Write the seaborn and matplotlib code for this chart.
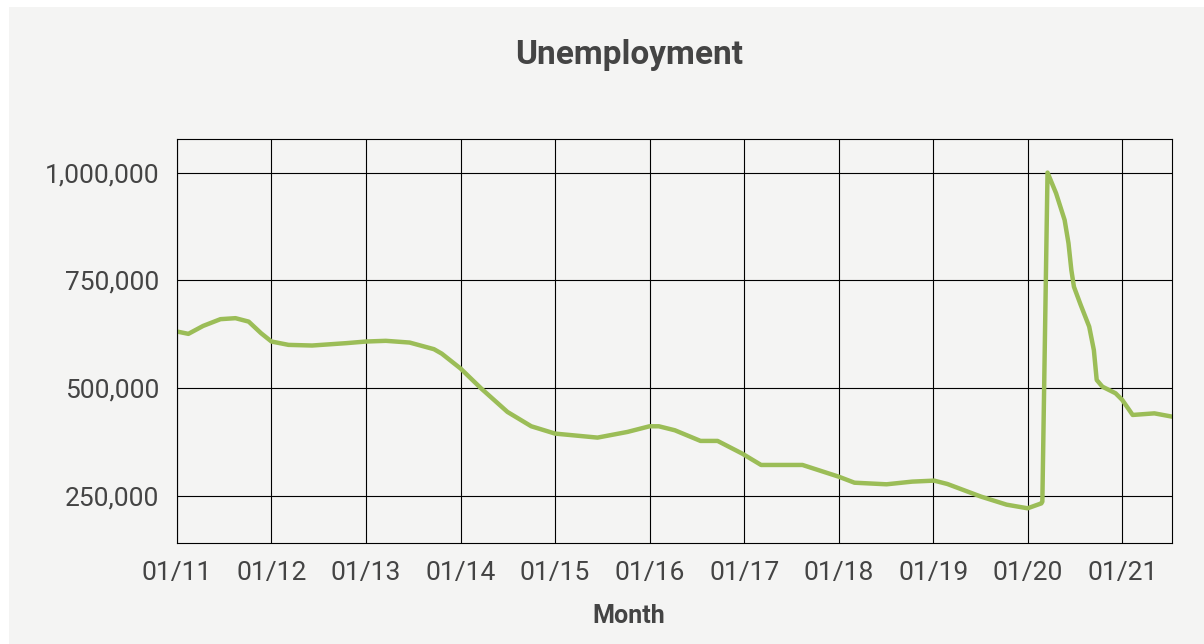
import pandas as pd
import matplotlib
matplotlib.use('Agg')
import matplotlib.pyplot as plt
import matplotlib.dates as mdates
from matplotlib.patches import Rectangle
from matplotlib.ticker import FuncFormatter
import seaborn as sns

# Values
dates = [
    '2011-01-01', '2011-02-14', '2011-04-12', '2011-06-18', '2011-08-15', '2011-10-05',
    '2011-11-22', '2012-01-01', '2012-03-07', '2012-06-06', '2012-10-16', '2013-01-01',
    '2013-03-18', '2013-06-18', '2013-09-20', '2013-10-20', '2014-01-01', '2014-03-22',
    '2014-07-01', '2014-10-01', '2015-01-01', '2015-06-14', '2015-10-08', '2016-01-01',
    '2016-02-06', '2016-04-08', '2016-07-16', '2016-09-20', '2016-12-24', '2017-03-07',
    '2017-08-14', '2018-01-01', '2018-03-03', '2018-07-05', '2018-10-12', '2019-01-05',
    '2019-02-25', '2019-07-05', '2019-10-12', '2020-01-01', '2020-02-23', '2020-02-27',
    '2020-03-18', '2020-04-20', '2020-05-23', '2020-06-07', '2020-06-18', '2020-06-28',
    '2020-07-24', '2020-08-26', '2020-09-13', '2020-09-24', '2020-10-16', '2020-12-06',
    '2021-01-01', '2021-02-10', '2021-05-05', '2021-07-12',
]
unemployed = [
    631000, 625600, 644000, 659700, 662000, 654000,
    627000, 607800, 600000, 598500, 604000, 607800,
    609400, 605400, 590000, 579700, 545000, 498500,
    444300, 411000, 394000, 384700, 397900, 411000,
    411000, 401700, 377000, 377000, 347600, 321200,
    321200, 294000, 280000, 276300, 282500, 284800,
    277000, 247700, 229000, 220600, 232000, 236000,
    1000000, 952000, 890000, 836000, 774000, 735000,
    693000, 642400, 588000, 518600, 503000, 487600,
    472000, 437300, 441000, 433400,
]
y_ticks = [250000, 500000, 750000, 1000000]

df = pd.DataFrame({'Month': pd.to_datetime(dates), 'Unemployment': unemployed})

sns.set_style('white')
plt.rcParams['font.family'] = ['Roboto', 'DejaVu Sans']

bg = '#f4f4f3'
text_col = '#444444'

fig = plt.figure(figsize=(12.04, 6.44), dpi=100)
fig.patch.set_facecolor('white')
fig.add_artist(Rectangle((9 / 1204, 0), 1 - 9 / 1204, 1 - 7 / 644,
                         transform=fig.transFigure, facecolor=bg, edgecolor='none', zorder=0))

ax = fig.add_axes([177 / 1204, 101 / 644, 995 / 1204, 404 / 644])
ax.set_facecolor(bg)

sns.lineplot(data=df, x='Month', y='Unemployment', ax=ax, color='#9bbd57', linewidth=3.2)
ax.lines[0].set_solid_joinstyle('round')

ax.set_xlim(df['Month'].iloc[0], df['Month'].iloc[-1])
ax.set_ylim(140000, 1078000)
ax.set_yticks(y_ticks)
ax.yaxis.set_major_formatter(FuncFormatter(lambda v, p: f'{int(v):,}'))
ax.xaxis.set_major_locator(mdates.YearLocator())
ax.xaxis.set_major_formatter(mdates.DateFormatter('%m/%y'))

ax.grid(True, color='black', linewidth=0.8)
ax.set_axisbelow(True)
for s in ax.spines.values():
    s.set_color('black')
    s.set_linewidth(0.8)
ax.tick_params(axis='both', direction='out', length=8, width=0.8, color='black',
               labelsize=19, labelcolor=text_col, pad=5)

ax.set_ylabel('')
ax.set_xlabel('Month', fontsize=18, fontweight='bold', color=text_col)
ax.xaxis.set_label_coords((629 - 177) / 995, -0.15)
ax.xaxis.label.set_va('top')

fig.text(629 / 1204, 1 - 55 / 644, 'Unemployment', ha='center', va='center',
         fontsize=24, fontweight='bold', color=text_col)

fig.savefig('out.png', dpi=100)
